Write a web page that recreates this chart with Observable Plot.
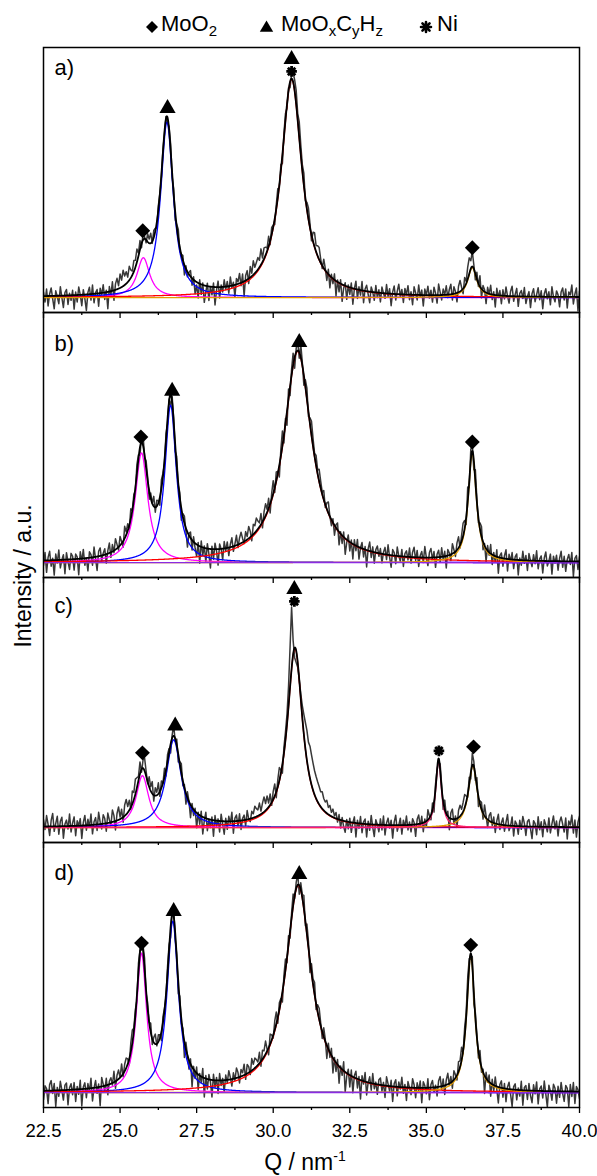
<!DOCTYPE html>
<html><head><meta charset="utf-8">
<script src="https://cdn.jsdelivr.net/npm/d3@7"></script>
<script src="https://cdn.jsdelivr.net/npm/@observablehq/plot@0.6"></script>
<style>
body{margin:0;background:#fff;font-family:"Liberation Sans",Arial,sans-serif;}
#wrap{position:relative;width:597px;height:1176px;overflow:hidden;}
.lg{position:absolute;top:13px;font-size:22px;line-height:22px;white-space:nowrap;color:#000;}
.lg sub{font-size:15px;vertical-align:-5px;line-height:0;}
#lgsym{position:absolute;left:0;top:0;}
#ylabel{position:absolute;left:23px;top:576px;transform:translate(-50%,-50%) rotate(-90deg);font-size:23px;white-space:nowrap;}
#xlabel{position:absolute;left:305px;top:1162px;transform:translate(-50%,-50%);font-size:23px;white-space:nowrap;}
#xlabel sup{font-size:14px;vertical-align:9px;line-height:0;}
#chart{position:absolute;left:0;top:0;}
</style></head><body>
<div id="wrap">
<div id="chart"></div>
<svg id="lgsym" width="597" height="45">
 <path d="M152,21L158,27L152,33L146,27Z" fill="#000"/>
 <path d="M266.5,20.5L273.2,31.8L259.8,31.8Z" fill="#000"/>
 <g stroke="#000" stroke-width="2.6" stroke-linecap="round" transform="translate(426,27)"><path d="M0,-5V5M-5,0H5M-3.55,-3.55L3.55,3.55M-3.55,3.55L3.55,-3.55"/></g>
</svg>
<div class="lg" style="left:161px">MoO<sub>2</sub></div>
<div class="lg" style="left:281px">MoO<sub>x</sub>C<sub>y</sub>H<sub>z</sub></div>
<div class="lg" style="left:437px">Ni</div>
<div id="ylabel">Intensity / a.u.</div>
<div id="xlabel">Q / nm<sup>-1</sup></div>
</div>
<script>
// ---------- data ----------
const panels = ["a", "b", "c", "d"];
const panelLabels = ["a)", "b)", "c)", "d)"];
const componentKeys = ["MoO2 25.7", "MoOxCyHz 26.6", "MoOxCyHz 30.7", "MoO2 36.5", "Ni 35.4", "background"];
const componentColors = ["#ff00ff", "#0000ff", "#ff0000", "#e39a00", "#ff1a6e", "#8a2be2"];
const majorTicks = [22.5, 25, 27.5, 30, 32.5, 35, 37.5, 40];
const minorTicks = [23.75, 26.25, 28.75, 31.25, 33.75, 36.25, 38.75];

// fitted peaks: component, centre (nm^-1), height (a.u.), FWHM (nm^-1)
const peaksA = [["MoO2 25.7", 25.76, 40, 0.5], ["MoOxCyHz 26.6", 26.53, 176, 0.5], ["MoOxCyHz 30.7", 30.60, 219, 0.82], ["MoO2 36.5", 36.50, 30, 0.35]];
const peaksB = [["MoO2 25.7", 25.70, 110, 0.5], ["MoOxCyHz 26.6", 26.65, 158, 0.45], ["MoOxCyHz 30.7", 30.80, 212, 1.1], ["MoO2 36.5", 36.50, 110, 0.32], ["background", 30, 0, 1]];
const peaksC = [["MoO2 25.7", 25.73, 52, 0.5], ["MoOxCyHz 26.6", 26.75, 88, 0.6], ["MoOxCyHz 30.7", 30.71, 180, 0.6], ["MoO2 36.5", 36.52, 62, 0.35], ["Ni 35.4", 35.40, 67, 0.22]];
const peaksD = [["MoO2 25.7", 25.70, 140, 0.4], ["MoOxCyHz 26.6", 26.72, 172, 0.45], ["MoOxCyHz 30.7", 30.82, 208, 1.0], ["MoO2 36.5", 36.45, 138, 0.32], ["background", 30, 0, 1]];

// measured minus fit, every 0.05 nm^-1 from 22.5 to 40
const residA = [4,-6,7,-10,2,8,-3,-13,5,-1,-8,9,-2,-12,3,6,-9,2,-5,5,
-14,3,-7,8,0,-11,5,-4,-16,2,7,-6,9,-9,1,4,-13,5,-2,8,
-7,2,-17,5,-4,9,-10,6,11,3,14,7,16,9,12,5,14,8,4,11,
7,13,3,9,-4,6,2,-3,8,4,10,-2,7,3,-6,4,0,-3,3,-2,
2,-5,3,6,-4,5,-8,2,9,-4,0,5,-10,3,-5,2,6,-7,3,-13,
-3,-15,4,-10,2,-17,-6,3,-14,0,-8,4,-18,-3,6,-11,2,-5,7,-3,
5,-7,9,-2,3,-12,6,2,10,-3,8,-15,5,9,-5,11,3,14,6,9,
12,7,16,4,11,8,3,10,-4,7,2,-6,4,9,-3,6,-9,4,7,-4,
3,-6,5,9,11,14,7,16,10,6,12,-3,7,11,4,-6,9,14,6,10,
12,4,-3,9,2,-8,5,-12,3,-5,6,-15,2,-9,4,-17,-3,3,-13,2,
-7,5,-16,0,8,-9,3,-5,9,-12,2,6,-3,-11,5,0,-8,7,-5,3,
-9,6,0,-5,9,-3,5,-12,2,8,-6,3,10,-2,5,-8,6,0,9,-5,
3,-10,8,2,-5,10,-2,5,-11,6,0,9,-3,5,-7,8,2,-8,11,3,
-5,6,0,9,-3,5,10,-6,7,2,-9,6,11,3,-5,9,2,12,16,8,
15,4,-6,7,-3,11,-9,5,2,-11,6,0,9,-5,3,-12,7,-2,5,-8,
6,-3,9,0,-7,5,10,-5,2,8,-10,3,6,-2,9,-7,0,5,-11,3,
8,-5,2,9,-3,6,-12,3,8,-2,5,-8,10,0,-5,6,2,-10,5,9,
-3,8,-11,5,2,12,-7,3,9,-14,6];
const residB = [-5,8,-12,3,9,-6,2,-15,6,-3,10,-8,0,5,-14,7,-2,-10,6,3,
-11,5,2,-16,7,-3,9,-7,0,-13,6,3,-8,10,-2,-14,5,8,-5,2,
6,-9,3,10,-5,7,-2,11,4,-3,9,2,-6,12,3,7,-4,10,0,6,
-3,9,4,-8,6,11,-2,7,3,-9,5,0,10,-5,6,2,-8,9,3,-3,
7,-5,2,-11,6,3,-7,9,-2,5,-12,3,7,-3,-15,2,6,-10,5,-5,
-12,3,-17,6,-8,2,-14,5,-5,-19,3,-10,6,-2,-16,5,0,-11,7,-3,
6,-8,3,9,-5,2,10,-3,6,11,4,-2,9,3,12,6,-5,10,7,13,
8,4,11,-6,7,12,3,10,-9,6,13,-5,9,2,-12,7,15,-8,5,-14,
10,-9,6,12,-11,4,9,-6,13,3,-10,7,11,-5,6,14,8,3,10,4,
12,7,2,9,-3,6,11,0,-6,4,-10,3,7,-13,2,-8,5,-16,-3,6,
-9,3,-15,5,-5,7,-12,0,6,-8,3,-17,2,9,-6,5,-11,3,7,-3,
5,-9,2,7,-5,10,-2,-12,6,3,-8,9,0,-5,7,-10,3,6,-3,9,
-6,5,10,-3,7,-9,2,6,-5,11,0,-8,5,9,-2,6,-10,3,7,-5,
9,-3,5,-12,6,2,-6,10,3,-5,7,11,-3,6,13,8,-7,15,-6,11,
7,-9,12,3,-5,6,10,-8,2,-13,5,-3,9,-10,3,-6,7,-16,2,5,
-8,3,9,-12,5,-2,7,-9,3,6,-15,2,-5,9,-3,5,-10,7,0,-6,
6,-3,10,-8,2,5,-12,3,9,-5,0,7,-13,5,-2,6,-9,3,10,-6,
5,-10,2,7,-3,9,-15,3,6,-8,5];
const residC = [7,-3,11,2,-9,6,13,-5,3,10,-8,5,9,-12,2,6,-3,12,-6,3,
9,-10,5,0,7,-13,3,10,-5,6,-2,11,-9,3,7,-6,12,2,-5,9,
5,-8,10,3,-3,12,6,-9,7,13,2,9,-5,11,15,6,10,-2,13,7,
15,10,4,12,-3,8,13,5,-2,10,4,12,-6,8,3,11,-5,7,0,9,
-6,7,4,-9,3,11,-3,6,-8,2,9,-5,3,-11,6,0,-13,4,-6,3,
-15,2,-9,5,-17,-3,6,-12,0,-8,3,-16,5,-6,2,-11,7,-3,-13,3,
-8,5,-2,9,-12,3,6,-5,7,-9,2,5,-6,9,0,-3,7,4,11,8,
6,12,3,10,15,7,13,4,11,-3,8,12,-6,7,13,3,-9,6,8,10,
20,40,62,14,-10,-12,-5,0,5,12,20,26,30,28,32,30,27,24,22,20,
18,15,17,12,10,13,7,10,4,8,2,6,-3,5,-8,3,-6,-11,2,-7,
4,-10,0,6,-14,3,-5,7,-9,2,5,-13,3,-6,9,-3,-12,5,0,-7,
6,-5,9,-10,2,7,-3,5,-13,3,10,-6,0,7,-9,5,-2,9,-5,3,
-7,6,2,-12,5,9,-3,7,-9,3,-6,10,2,-5,7,-10,5,0,-3,6,
3,-8,9,-2,5,-12,6,10,-5,3,-9,7,11,5,9,13,6,-3,7,-6,
12,5,-5,9,-10,3,7,-6,11,2,-8,5,9,-3,6,-9,3,10,-5,2,
7,-6,3,11,-5,0,9,-10,5,2,-8,6,-3,10,3,-9,5,7,-2,-12,
6,3,-8,10,-3,5,-10,7,2,-5,9,-6,3,11,-2,6,-9,5,10,3,
-5,9,-12,6,2,12,-6,7,-10,5,11];
const residD = [-9,5,2,-13,6,10,-3,7,-16,3,-6,9,0,-10,5,7,-15,2,6,-5,
7,-12,3,-5,9,-17,2,6,-9,5,-3,10,-13,0,7,-6,3,-19,9,2,
-5,7,-10,3,6,-2,11,-7,5,9,0,12,-3,7,10,5,-6,9,13,3,
6,-5,9,2,-7,5,11,-3,6,0,9,-6,5,10,-2,7,3,-9,6,2,
-3,7,5,-10,3,9,-6,2,-13,6,-5,3,-16,7,0,-9,5,-20,3,-7,
6,-15,2,-6,9,-19,3,-10,5,-2,-17,6,-7,3,-13,7,-5,2,-12,5,
-3,9,2,-7,6,-2,10,5,-6,7,3,11,-5,9,6,-3,12,5,10,7,
3,11,-5,9,6,13,2,-7,10,5,-3,9,12,-6,7,3,-10,6,11,-5,
9,-7,5,12,-3,6,11,-9,7,3,13,-5,10,6,-12,9,5,12,-6,7,
11,3,-7,9,2,-13,6,-5,7,-15,3,-9,5,-17,2,-6,9,-20,-3,5,
-12,6,-16,2,7,-9,3,-19,5,-3,9,-13,0,6,-7,10,-5,2,-10,5,
7,-6,3,-12,9,2,-5,6,-15,3,7,-9,5,-2,10,-6,3,-13,6,0,
-7,9,3,-10,5,-3,7,-15,6,2,-6,9,-12,3,7,-5,2,-9,6,10,
-3,7,-9,5,11,-2,6,-7,9,3,-5,10,6,13,-3,9,5,14,7,-6,
9,-12,5,2,-7,10,-5,3,-18,6,-2,7,-13,5,-6,9,-3,-16,3,7,
-9,5,-13,2,7,-5,-17,3,6,-10,2,-6,9,-15,3,5,-9,7,-5,-12,
6,-3,9,-13,2,5,-7,10,-3,-16,6,0,-9,7,3,-12,5,-6,9,-2,
-10,6,3,-15,7,-5,9,-12,5,2,-7];

// phase markers: symbol, Q, intensity
const markersA = [["MoO2", 25.74, 67], ["MoOxCyHz", 26.55, 190], ["MoOxCyHz", 30.60, 239], ["Ni", 30.60, 227], ["MoO2", 36.50, 50]];
const markersB = [["MoO2", 25.68, 126], ["MoOxCyHz", 26.70, 172], ["MoOxCyHz", 30.85, 221], ["MoO2", 36.50, 121]];
const markersC = [["MoO2", 25.73, 75], ["MoOxCyHz", 26.80, 102], ["MoOxCyHz", 30.69, 239], ["Ni", 30.69, 227], ["Ni", 35.41, 77], ["MoO2", 36.54, 81]];
const markersD = [["MoO2", 25.70, 150], ["MoOxCyHz", 26.75, 182], ["MoOxCyHz", 30.85, 219], ["MoO2", 36.45, 148]];

// ---------- build tables ----------
const peakSets = [peaksA, peaksB, peaksC, peaksD];
const residSets = [residA, residB, residC, residD];
const markerSets = [markersA, markersB, markersC, markersD];
const lor = (q, p) => p[2] / (1 + ((q - p[1]) / (p[3] / 2)) ** 2);
const total = (q, ps) => d3.sum(ps, p => lor(q, p));
const qFine = d3.range(0, 1751).map(i => 22.5 + i * 0.01);

const compRows = [], fitRows = [], rawRows = [], markRows = [];
panels.forEach((pn, k) => {
  const ps = peakSets[k];
  ps.forEach(p => qFine.forEach(q => compRows.push({panel: pn, comp: p[0], q, y: lor(q, p)})));
  qFine.forEach(q => fitRows.push({panel: pn, q, y: total(q, ps)}));
  residSets[k].forEach((r, i) => { const q = 22.5 + i * 0.05; rawRows.push({panel: pn, q, y: total(q, ps) + r}); });
  markerSets[k].forEach(m => markRows.push({panel: pn, sym: m[0], q: m[1], y: m[2]}));
});
const labelRows = panels.map((p, k) => ({panel: p, text: panelLabels[k]}));
const labelDy = {a: 20, b: 31, c: 28, d: 30};

const asterisk8 = {draw(ctx, size) {
  const R = 5.3, w = 1.4;
  for (let a = 0; a < 4; a++) {
    const t = a * Math.PI / 4, c = Math.cos(t), s = Math.sin(t);
    const pts = [[-R, -w], [R, -w], [R, w], [-R, w]].map(([x, y]) => [x * c - y * s, x * s + y * c]);
    ctx.moveTo(...pts[0]); ctx.lineTo(...pts[1]); ctx.lineTo(...pts[2]); ctx.lineTo(...pts[3]); ctx.closePath();
  }
}};

const chart = Plot.plot({
  width: 597, height: 1176,
  marginLeft: 43, marginRight: 18, marginTop: 45, marginBottom: 68,
  style: {fontFamily: "Liberation Sans, Arial, sans-serif", background: "transparent"},
  x: {domain: [22.5, 40], axis: null},
  y: {domain: [-15, 251], axis: null},
  fy: {domain: panels, padding: 0, axis: null},
  color: {domain: componentKeys, range: componentColors},
  marks: [
    Plot.line(rawRows, {x: "q", y: "y", fy: "panel", stroke: "#383838", strokeWidth: 1.5, clip: true}),
    Plot.line(compRows, {x: "q", y: "y", fy: "panel", z: "comp", stroke: "comp", strokeWidth: 1.3, clip: true}),
    Plot.line(fitRows, {x: "q", y: "y", fy: "panel", stroke: "#000", strokeWidth: 1.8, clip: true}),
    Plot.dot(markRows.filter(d => d.sym === "MoO2"), {x: "q", y: "y", fy: "panel", symbol: "diamond2", r: 6.7, fill: "#000"}),
    Plot.dot(markRows.filter(d => d.sym === "MoOxCyHz"), {x: "q", y: "y", fy: "panel", symbol: "triangle", r: 6.0, fill: "#000"}),
    Plot.dot(markRows.filter(d => d.sym === "Ni"), {x: "q", y: "y", fy: "panel", symbol: asterisk8, r: 5, fill: "#000"}),
    ...panels.map(p => Plot.text(labelRows.filter(d => d.panel === p), {fy: "panel", text: "text", frameAnchor: "top-left", dx: 11, dy: labelDy[p], fontSize: 22, textAnchor: "start", lineAnchor: "middle"})),
    Plot.frame({stroke: "#000", strokeWidth: 1.5}),
    Plot.ruleX(majorTicks, {x: d => d, y1: -15, y2: -21, stroke: "#000", strokeWidth: 1.3, clip: false}),
    Plot.ruleX(minorTicks, {x: d => d, y1: -15, y2: -18, stroke: "#000", strokeWidth: 1.3, clip: false}),
    Plot.axisX(majorTicks, {tickSize: 0, tickPadding: 16, fontSize: 18.5, tickFormat: d3.format(".1f"), label: null})
  ]
});
document.getElementById("chart").appendChild(chart);
</script>
</body></html>
